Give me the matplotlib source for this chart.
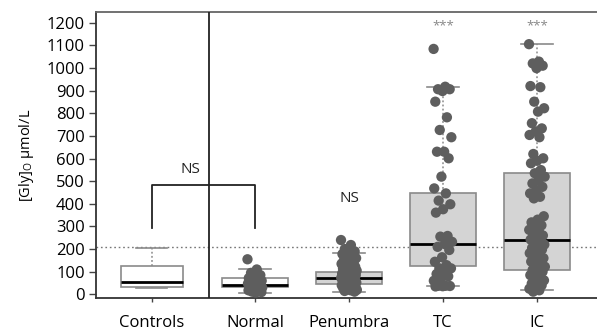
import matplotlib
matplotlib.use("Agg")
import matplotlib.pyplot as plt
import numpy as np

plt.rcParams['font.family'] = ['Open Sans', 'DejaVu Sans']

# ---- data ----
categories = ["Controls", "Normal", "Penumbra", "TC", "IC"]
positions = [0.904, 2, 3, 4, 5]
box_q1 = [31, 32, 44, 125, 107]
box_med = [56, 41, 73, 221, 240]
box_q3 = [126, 73, 100, 449, 535]
whisk_lo = [27, 7, 12, 38, 19]
whisk_hi = [203, 112, 181, 915, 1105]
box_fill = ["white", "white", "#d4d4d4", "#d4d4d4", "#d4d4d4"]

normal_pts = [155, 110, 95, 85, 78, 72, 68, 65, 60, 58, 55, 52, 50, 48, 45, 42,
              40, 38, 36, 34, 32, 30, 28, 25, 22, 20, 18, 15, 12, 10, 8]
penumbra_pts = [240, 218, 200, 190, 185, 178, 170, 165, 160, 155, 150, 145, 140,
                135, 130, 125, 122, 118, 115, 112, 108, 105, 102, 100, 98, 95, 92,
                90, 88, 85, 82, 80, 78, 75, 73, 70, 68, 65, 62, 60, 58, 55, 52, 50,
                48, 45, 42, 40, 38, 35, 32, 30, 28, 25, 22, 20, 18, 15, 12]
tc_pts = [1084, 917, 906, 906, 898, 851, 782, 726, 694, 630, 630, 601, 520, 468,
          446, 414, 398, 376, 361, 258, 255, 232, 222, 210, 196, 164, 144, 129,
          115, 115, 100, 90, 80, 70, 60, 38, 38, 37, 36, 35]
ic_pts = [1105, 1028, 1020, 1010, 999, 920, 915, 851, 822, 807, 756, 733, 719,
          704, 694, 620, 601, 590, 579, 549, 535, 520, 505, 490, 475, 461, 446,
          431, 424, 345, 330, 318, 305, 295, 285, 275, 268, 260, 250, 242, 235,
          228, 220, 212, 205, 198, 190, 182, 175, 168, 160, 152, 145, 138, 130,
          122, 115, 108, 100, 92, 85, 78, 70, 62, 55, 48, 40, 32, 25, 18, 12]
point_groups = [("Normal", normal_pts, 0.08), ("Penumbra", penumbra_pts, 0.085),
                ("TC", tc_pts, 0.1), ("IC", ic_pts, 0.085)]

threshold = 210
yticks = list(range(0, 1300, 100))

# ---- figure ----
fig = plt.figure(figsize=(5.97, 3.31), dpi=100)
ax = fig.add_axes([0.1608, 0.0997, 0.8392, 0.864])

stats = []
for i, c in enumerate(categories):
    stats.append(dict(label=c, med=box_med[i], q1=box_q1[i], q3=box_q3[i],
                      whislo=whisk_lo[i], whishi=whisk_hi[i], fliers=[]))

widths = [0.65, 0.7, 0.7, 0.7, 0.7]
bp = ax.bxp(stats, positions=positions, widths=widths, capwidths=[0.33] * 5,
            patch_artist=True, showfliers=False,
            boxprops=dict(edgecolor="#8a8a8a", linewidth=1.2),
            whiskerprops=dict(color="#8a8a8a", linestyle=(0, (1.2, 1.5)), linewidth=1.1),
            capprops=dict(color="#8a8a8a", linewidth=1.2),
            medianprops=dict(color="black", linewidth=2), zorder=2)
for patch, fc in zip(bp['boxes'], box_fill):
    patch.set_facecolor(fc)

# points with deterministic jitter
for name, vals, w in point_groups:
    xc = positions[categories.index(name)]
    n = len(vals)
    frac = (np.arange(n) * 0.6180339887) % 1.0
    xs = xc + (frac - 0.5) * 2 * w
    ax.scatter(xs, vals, s=55, color="#5e5e5e", edgecolors="none", zorder=3)

# threshold line
ax.axhline(threshold, color="#777777", linestyle=(0, (1.2, 2)), linewidth=1.0, zorder=1)

# divider
ax.axvline(1.511, color="#222222", linewidth=1.3, zorder=4)

# bracket NS
ax.plot([positions[0], positions[0], positions[1], positions[1]],
        [292, 483, 483, 292], color="#222222", linewidth=1.3, zorder=4)
ax.text(1.31, 550, "NS", ha="center", va="center", fontsize=11, color="#222222")
ax.text(3, 425, "NS", ha="center", va="center", fontsize=11, color="#222222")
ax.text(4, 1186, "***", ha="center", va="center", fontsize=9.5, color="#888888")
ax.text(5, 1186, "***", ha="center", va="center", fontsize=9.5, color="#888888")

ax.set_xlim(0.3085, 0.3085 + 501 / 94)
ax.set_ylim(-16, 1247)
ax.set_yticks(yticks)
ax.set_yticklabels([str(v) for v in yticks])
ax.set_xticks(positions)
ax.set_xticklabels(categories)
ax.tick_params(axis='y', labelsize=12, length=5, width=1, pad=3, color="#444444")
ax.tick_params(axis='x', labelsize=12, length=3, width=1, pad=9, color="#444444")
ax.set_ylabel("[Gly]$_\\mathregular{O}$ µmol/L", fontsize=10.5, labelpad=8)
for s in ax.spines.values():
    s.set_color("#333333")
    s.set_linewidth(1.3)
ax.spines['top'].set_color("#666666")
ax.spines['right'].set_visible(False)

fig.savefig("out.png", dpi=100)
